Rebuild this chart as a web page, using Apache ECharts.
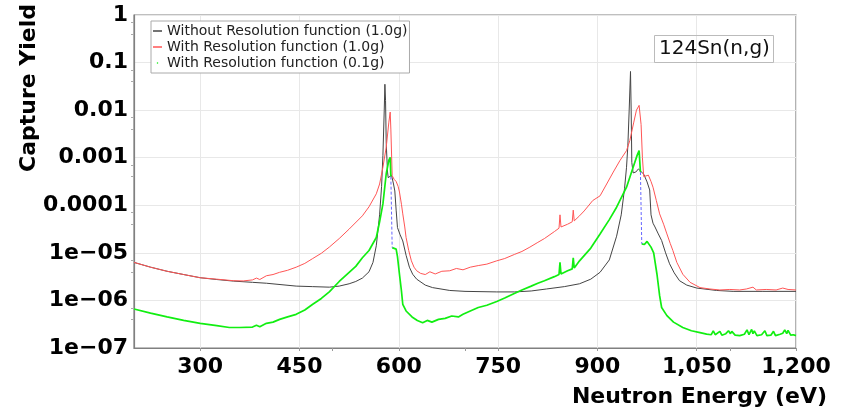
<!DOCTYPE html>
<html>
<head>
<meta charset="utf-8">
<script src="https://cdn.jsdelivr.net/npm/echarts@6/dist/echarts.min.js"></script>
<style>html,body{margin:0;padding:0;background:#fff}#c{width:844px;height:407px}</style>
</head>
<body>
<div id="c"></div>
<script>
// ---- Data ----
const xTickValues = [300, 450, 600, 750, 900, 1050, 1200];
const xLabelValues = [300, 450, 600, 750, 900, 1050, 1200];
const yTickValues = [1, 0.1, 0.01, 0.001, 0.0001, 1e-5, 1e-6, 1e-7];
const yTickLabels = ['1', '0.1', '0.01', '0.001', '0.0001', '1e\u221205', '1e\u221206', '1e\u221207'];
const seriesNames = ['Without Resolution function (1.0g)', 'With Resolution function (1.0g)', 'With Resolution function (0.1g)'];

// Without Resolution function (1.0g)
const blackE = [200,225,250,275,300,325,350,379,400,445,470,495,510,525,535,545,555,561,566,571,574,576,578,579,580,581,583,584,586,589,592,594,596,598,602,606,611,616,621,627,640,651,677,700,748,775,800,823,850,873,890,904,918,929,936,941,944,946,948,950,951,952,954,958,962,965,970,975,979,981,984,987,992,997,1003,1009,1016,1024,1035,1050,1080,1105,1150,1200];
const blackY = [6.3e-6,5.0e-6,4.1e-6,3.5e-6,3.0e-6,2.75e-6,2.55e-6,2.4e-6,2.3e-6,2.0e-6,1.95e-6,1.9e-6,2.0e-6,2.24e-6,2.5e-6,2.95e-6,4.0e-6,6.3e-6,1.41e-5,6.3e-5,2.5e-4,1.12e-3,1.0e-2,3.5e-2,1.58e-2,2.0e-3,5.0e-4,3.8e-4,3.8e-4,4.3e-4,2.8e-4,2.0e-4,7.9e-5,3.4e-5,2.4e-5,1.78e-5,8.9e-6,5.0e-6,3.55e-6,2.8e-6,2.1e-6,1.86e-6,1.62e-6,1.55e-6,1.51e-6,1.51e-6,1.58e-6,1.74e-6,1.95e-6,2.24e-6,2.8e-6,3.9e-6,7.1e-6,2.24e-5,6.3e-5,2.24e-4,6.3e-4,1.78e-3,1.0e-2,6.5e-2,1.0e-2,7.9e-4,4.8e-4,5.0e-4,5.8e-4,6.3e-4,4.5e-4,3.1e-4,2.1e-4,6.3e-5,4.2e-5,3.5e-5,2.5e-5,1.82e-5,1.0e-5,5.9e-6,3.8e-6,2.6e-6,2.1e-6,1.82e-6,1.62e-6,1.55e-6,1.55e-6,1.55e-6];

// With Resolution function (1.0g)
const redE = [200,225,250,275,300,325,350,365,379,385,390,400,410,420,432,445,458,470,483,495,510,525,545,555,566,571,576,581,585,587,588,590,593,596,599,601,604,606,609,611,615,619,623,627,633,640,647,655,665,677,687,697,708,720,733,748,760,775,786,798,810,820,835,842,843.5,845,855,862,863.5,865,873,880,893,904,914,924,934,944,949,955,959,963,966,968,970,973,977,981,984,989,994,1000,1005,1010,1014,1020,1029,1040,1055,1070,1085,1100,1115,1125,1135,1140,1155,1170,1180,1188,1200];
const redY = [6.3e-6,5.0e-6,4.1e-6,3.5e-6,3.0e-6,2.8e-6,2.6e-6,2.57e-6,2.7e-6,2.95e-6,2.75e-6,3.3e-6,3.5e-6,3.9e-6,4.3e-6,5.0e-6,6.0e-6,7.6e-6,9.8e-6,1.32e-5,2.0e-5,3.16e-5,6.0e-5,9.3e-5,1.74e-4,2.8e-4,6.3e-4,1.66e-3,5.6e-3,9.1e-3,4.0e-3,4.2e-4,3.5e-4,3.16e-4,2.5e-4,1.9e-4,1.05e-4,6.6e-5,3.5e-5,2.1e-5,1.12e-5,6.8e-6,5.0e-6,4.2e-6,3.7e-6,3.5e-6,4.0e-6,3.6e-6,4.1e-6,4.2e-6,4.7e-6,4.4e-6,5.0e-6,5.4e-6,5.8e-6,6.8e-6,7.6e-6,9.3e-6,1.07e-5,1.32e-5,1.66e-5,2.0e-5,2.8e-5,3.3e-5,6.3e-5,3.5e-5,4.0e-5,4.5e-5,7.9e-5,4.7e-5,6.0e-5,7.6e-5,1.26e-4,1.58e-4,2.8e-4,5.0e-4,8.7e-4,1.41e-3,2.3e-3,5.6e-3,1.0e-2,1.26e-2,5.0e-3,1.0e-3,4.0e-4,4.4e-4,4.3e-4,3.16e-4,2.4e-4,1.26e-4,6.6e-5,4.0e-5,2.5e-5,1.58e-5,1.12e-5,6.3e-6,3.55e-6,2.4e-6,1.86e-6,1.74e-6,1.66e-6,1.7e-6,1.66e-6,1.74e-6,1.9e-6,1.66e-6,1.7e-6,1.66e-6,1.82e-6,1.7e-6,1.66e-6];

// With Resolution function (0.1g) ('-' = gap where the curve drops)
const greenE = [200,225,250,275,300,325,344,360,379,385,390,400,410,420,432,445,458,470,483,495,510,525,535,545,555,566,571,576,581,585,587,588,589,590,593,596,598,601,604,606,611,620,628,636,643,650,660,670,680,690,697,708,720,733,748,760,772,786,800,810,820,835,842,843.5,845,855,862,863.5,865,873,890,904,918,929,944,954,960,963,965,966,967,971,975,978,981,985,990,994,997,1005,1015,1029,1042,1055,1065,1072,1075,1078,1085,1088,1094,1098,1101,1103,1108,1115,1122,1126,1129,1133,1135,1137,1141,1148,1153,1156,1162,1166,1169,1176,1180,1183,1186,1188,1192,1196,1200];
const greenY = [6.6e-7,5.4e-7,4.5e-7,3.8e-7,3.3e-7,2.95e-7,2.7e-7,2.7e-7,2.75e-7,3.0e-7,2.8e-7,3.3e-7,3.5e-7,4.0e-7,4.5e-7,5.1e-7,6.3e-7,8.3e-7,1.1e-6,1.51e-6,2.5e-6,3.9e-6,5.2e-6,7.9e-6,1.12e-5,2.1e-5,4.5e-5,1.07e-4,4.6e-4,8.9e-4,1.02e-3,4.0e-4,'-',1.29e-5,1.29e-5,1.2e-5,8.3e-6,3.55e-6,1.58e-6,8.3e-7,6.0e-7,4.5e-7,3.8e-7,3.4e-7,3.8e-7,3.5e-7,4.0e-7,4.2e-7,4.7e-7,4.5e-7,5.1e-7,6.0e-7,7.1e-7,7.9e-7,9.5e-7,1.12e-6,1.35e-6,1.66e-6,2.0e-6,2.3e-6,2.6e-6,3.16e-6,3.5e-6,6.3e-6,3.6e-6,4.2e-6,4.6e-6,7.9e-6,4.8e-6,6.8e-6,1.26e-5,2.5e-5,5.0e-5,9.1e-5,2.4e-4,6.3e-4,1.12e-3,1.41e-3,5.0e-4,'-',1.55e-5,1.5e-5,1.74e-5,1.58e-5,1.32e-5,1.0e-5,3.55e-6,1.26e-6,7.1e-7,4.8e-7,3.5e-7,2.7e-7,2.3e-7,2.1e-7,1.95e-7,1.9e-7,2.3e-7,1.9e-7,2.24e-7,1.86e-7,2.0e-7,2.3e-7,2.0e-7,2.24e-7,1.86e-7,1.82e-7,1.95e-7,2.4e-7,1.9e-7,2.45e-7,2.0e-7,2.3e-7,1.82e-7,1.9e-7,2.3e-7,1.82e-7,1.86e-7,2.24e-7,1.82e-7,1.95e-7,2.04e-7,2.4e-7,2.0e-7,2.34e-7,1.86e-7,1.9e-7,1.82e-7];

// Blue dashed connector where the 0.1g curve drops
const blueE = [588, 590, 777, 965, 967];
const blueY = [4.0e-4, 1.29e-5, '-', 5.0e-4, 1.55e-5];

// ---- Chart ----
const zip = (xs, ys) => xs.map((x, i) => [x, ys[i]]);
const FONT = 'DejaVu Sans';
const fmtThousands = v => String(v).replace(/\B(?=(\d{3})+(?!\d))/g, ',');

const chart = echarts.init(document.getElementById('c'), null, {renderer: 'canvas'});
chart.setOption({
  animation: false,
  backgroundColor: '#ffffff',
  title: {
    text: '124Sn(n,g)',
    left: 654, top: 35,
    padding: [4, 4, 4, 5],
    borderColor: '#bbbbbb', borderWidth: 1,
    textStyle: {fontFamily: FONT, fontSize: 20, fontWeight: 'normal', color: '#111', lineHeight: 20}
  },
  legend: {
    data: [
      {name: seriesNames[0], icon: 'rect'},
      {name: seriesNames[1], icon: 'rect'},
      {name: seriesNames[2], icon: 'circle'}
    ],
    orient: 'vertical',
    left: 151, top: 21,
    padding: [3, 2, 3, 2],
    itemGap: 2,
    itemWidth: 9, itemHeight: 1.5,
    borderColor: '#aaaaaa', borderWidth: 1,
    backgroundColor: '#ffffff',
    textStyle: {fontFamily: FONT, fontSize: 14, color: '#222', lineHeight: 14}
  },
  grid: {
    left: 134, right: 48, top: 15, bottom: 59,
    show: true, borderColor: '#808080', borderWidth: 1.2
  },
  xAxis: {
    type: 'value', min: 200, max: 1200,
    axisLine: {show: true, lineStyle: {color: '#808080', width: 1.2}},
    axisTick: {show: true, customValues: xTickValues, length: 3, inside: false, lineStyle: {color: '#999'}},
    minorTick: {show: true, splitNumber: 2, length: 3, lineStyle: {color: '#999'}},
    splitLine: {show: true, lineStyle: {color: '#e8e8e8', width: 1}},
    axisLabel: {
      customValues: xLabelValues, margin: 8,
      fontFamily: FONT, fontSize: 22, fontWeight: 'bold', color: '#000',
      formatter: v => fmtThousands(v)
    }
  },
  yAxis: {
    type: 'log', logBase: 10, min: 1e-7, max: 1, splitNumber: 7,
    axisLine: {show: true, lineStyle: {color: '#808080', width: 1.2}},
    axisTick: {show: false},
    minorTick: {show: true, splitNumber: 3, length: 3, lineStyle: {color: '#aaa'}},
    splitLine: {show: true, lineStyle: {color: '#e8e8e8', width: 1}},
    axisLabel: {
      margin: 6, fontFamily: FONT, fontSize: 22, fontWeight: 'bold', color: '#000',
      formatter: v => {
        let best = 0, bd = Infinity;
        yTickValues.forEach((t, i) => { const d = Math.abs(Math.log10(v) - Math.log10(t)); if (d < bd) { bd = d; best = i; } });
        return yTickLabels[best];
      }
    }
  },
  graphic: [
    {type: 'text', x: 29, y: 88, rotation: Math.PI / 2,
     style: {text: 'Capture Yield', fontFamily: FONT, fontSize: 22, fontWeight: 'bold', fill: '#000', align: 'center', verticalAlign: 'middle'}},
    {type: 'text', x: 827, y: 397,
     style: {text: 'Neutron Energy (eV)', fontFamily: FONT, fontSize: 22, fontWeight: 'bold', fill: '#000', align: 'right', verticalAlign: 'middle'}}
  ],
  series: [
    {name: seriesNames[0], type: 'line', data: zip(blackE, blackY), showSymbol: false, symbol: 'none',
     color: '#444444', lineStyle: {color: '#444444', width: 1}, z: 2},
    {name: seriesNames[1], type: 'line', data: zip(redE, redY), showSymbol: false, symbol: 'none',
     color: '#ff5555', lineStyle: {color: '#ff5555', width: 1}, z: 3},
    {name: seriesNames[2], type: 'line', data: zip(greenE, greenY), showSymbol: false, symbol: 'none',
     color: '#11ee11', lineStyle: {color: '#11ee11', width: 1.7}, connectNulls: false, z: 4},
    {name: 'gap', type: 'line', data: zip(blueE, blueY), showSymbol: false, symbol: 'none',
     lineStyle: {color: '#6666ff', width: 1, type: [3, 2]}, connectNulls: false, z: 5}
  ]
});
</script>
</body>
</html>
